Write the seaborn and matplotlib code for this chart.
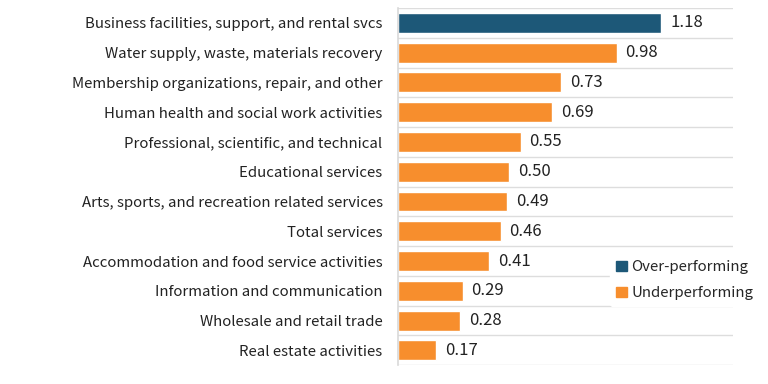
import pandas as pd
import seaborn as sns
import matplotlib.pyplot as plt
from matplotlib.patches import Patch

sectors = [
    "Business facilities, support, and rental svcs",
    "Water supply, waste, materials recovery",
    "Membership organizations, repair, and other",
    "Human health and social work activities",
    "Professional, scientific, and technical",
    "Educational services",
    "Arts, sports, and recreation related services",
    "Total services",
    "Accommodation and food service activities",
    "Information and communication",
    "Wholesale and retail trade",
    "Real estate activities",
]
values = [1.18, 0.98, 0.73, 0.69, 0.55, 0.50, 0.49, 0.46, 0.41, 0.29, 0.28, 0.17]
groups = ["Over-performing"] + ["Underperforming"] * 11

palette = {"Over-performing": "#1d5878", "Underperforming": "#f78e2d"}


def main():
    sns.set_style("white")
    plt.rcParams["font.family"] = ["Noto Sans CJK JP", "DejaVu Sans"]

    df = pd.DataFrame({"sector": sectors, "value": values, "group": groups})

    fig = plt.figure(figsize=(7.68, 3.84), dpi=100)
    ax = fig.add_axes([0.518, 0.049, 0.436, 0.930])

    sns.barplot(data=df, x="value", y="sector", hue="group", palette=palette,
                dodge=False, width=0.67, legend=False, saturation=1, ax=ax)

    for i, v in enumerate(values):
        ax.text(v + 0.04, i, f"{v:.2f}", va="center", ha="left",
                fontsize=12, color="#222222")

    ax.set_xlim(0, 1.5)
    ax.set_ylim(11.5, -0.5)
    ax.set_xlabel("")
    ax.set_ylabel("")
    ax.set_xticks([])
    ax.set_yticks(range(len(sectors)))
    ax.set_yticklabels(sectors, fontsize=10.8, color="#222222")
    ax.tick_params(axis="y", length=0, pad=11)
    ax.set_yticks([i - 0.5 for i in range(len(sectors) + 1)], minor=True)
    ax.tick_params(axis="y", which="minor", length=0)
    ax.grid(axis="y", which="minor", color="#dddddd", linewidth=1)
    ax.set_axisbelow(True)

    for side in ["top", "right", "bottom"]:
        ax.spines[side].set_visible(False)
    ax.spines["left"].set_color("#d9d9d9")
    ax.spines["left"].set_linewidth(1.2)

    handles = [Patch(color=palette[k]) for k in palette]
    leg = ax.legend(handles, list(palette.keys()), loc="upper left",
                    bbox_to_anchor=(0.635, 0.31), frameon=True, fontsize=10.8,
                    handlelength=0.7, handleheight=0.7, handletextpad=0.3,
                    labelspacing=0.8, borderaxespad=0)
    leg.get_frame().set_edgecolor("white")
    leg.get_frame().set_facecolor("white")
    leg.get_frame().set_alpha(1)

    fig.savefig("out.png", dpi=100)


if __name__ == "__main__":
    main()
